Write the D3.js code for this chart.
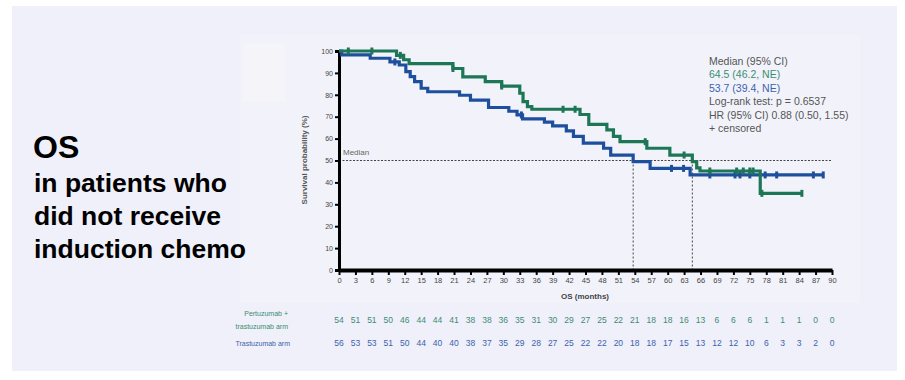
<!DOCTYPE html>
<html><head><meta charset="utf-8">
<script src="https://cdn.jsdelivr.net/npm/d3@7"></script>
<style>body{margin:0;background:#fff}svg{display:block}</style>
</head><body>
<script>
// ---- data ----
const pertTimes = [0,10.5,11.8,12.8,20.8,22.6,26.7,29.7,33.0,33.6,34.4,35.2,44.0,45.6,48.9,50.1,51.3,56.2,60.4,64.5,65.3,65.9,76.9];
const pertSurv  = [100,98,96,94.2,92,88.2,86,84,80.7,76.9,74.6,73.4,71,66.5,64,61,58.6,55.6,52.5,49.5,46.6,45.2,35];
const pertEnd = 84.5;
const pertCensor = [1.7,6.0,11.2,20.8,29.7,40.9,43.1,55.9,63.0,67.7,72.6,73.8,75.0,75.6,77.2,84.5];

const trasTimes = [0,0.5,5.7,9.3,11.0,12.2,13.0,13.8,15.0,16.2,22.0,24.0,27.3,31.0,32.5,33.5,37.5,39.0,41.5,42.8,44.6,48.3,49.6,53.7,56.8,64.1];
const trasSurv  = [100,98.2,96.7,95,93.6,90.6,88.3,86,83,81.4,79.8,77.6,74.2,72.5,70.8,69,67.5,65.8,63.5,61,57.9,55.6,52.5,49.5,46.4,43.4];
const trasEnd = 88.4;
const trasCensor = [10.2,33.3,60.7,62.9,67.7,72.3,73.2,75.0,77.8,79.9,86.6,88.4];

const xTicks = d3.range(0, 91, 3);
const yTicks = d3.range(0, 101, 10);
const riskPert = [54,51,51,50,46,44,44,41,38,38,36,35,31,30,29,27,25,22,21,18,18,16,13,6,6,6,1,1,1,0,0];
const riskTras = [56,53,53,51,50,44,40,40,38,37,35,29,28,27,25,22,22,20,18,18,17,15,13,12,12,10,6,3,3,2,0];
const medians = [53.7, 64.5];
const titleLines = ["in patients who","did not receive","induction chemo"];
const legendLines = ["Median (95% CI)","64.5 (46.2, NE)","53.7 (39.4, NE)","Log-rank test: p = 0.6537","HR (95% CI) 0.88 (0.50, 1.55)","+ censored"];

// ---- drawing ----
const W = 905, H = 380;
const green = "#1d7656", blue = "#1e4f9d";
const svg = d3.select("body").append("svg").attr("width", W).attr("height", H)
  .style("font-family", "'Liberation Sans', Arial, sans-serif");
svg.append("rect").attr("width", W).attr("height", H).attr("fill", "#fff");
svg.append("rect").attr("x", 12).attr("y", 6).attr("width", 885).attr("height", 365).attr("fill", "#eff0f9");
svg.append("rect").attr("x", 240).attr("y", 35).attr("width", 620).attr("height", 268).attr("fill", "#f2f3fa");
svg.append("rect").attr("x", 243).attr("y", 44).attr("width", 42).attr("height", 58).attr("fill", "#f5f5f9");

// title
svg.append("text").attr("x", 33).attr("y", 158).attr("font-size", 32).attr("font-weight", "bold").attr("fill", "#000").text("OS");
svg.selectAll("text.tl").data(titleLines).enter().append("text").attr("class", "tl")
  .attr("x", 34).attr("y", (d, i) => 192 + i * 33).attr("font-size", 26.5).attr("font-weight", "bold").attr("fill", "#000").text(d => d);

const x = d3.scaleLinear().domain([0, 90]).range([339, 832]);
const y = d3.scaleLinear().domain([0, 100]).range([270, 51]);

// median lines
svg.append("line").attr("x1", x(0)).attr("x2", x(90)).attr("y1", y(50)).attr("y2", y(50))
  .attr("stroke", "#444").attr("stroke-width", 1.2).attr("stroke-dasharray", "2,1.5");
svg.selectAll("line.vm").data(medians).enter().append("line").attr("class", "vm")
  .attr("x1", d => x(d)).attr("x2", d => x(d)).attr("y1", y(50)).attr("y2", y(0))
  .attr("stroke", "#444").attr("stroke-width", 1).attr("stroke-dasharray", "2,2");
svg.append("text").attr("x", 343).attr("y", 155).attr("font-size", 8).attr("fill", "#666").text("Median");

// axes
const yAxis = svg.append("g").attr("transform", `translate(${x(0)},0)`)
  .call(d3.axisLeft(y).tickValues(yTicks).tickSize(4).tickPadding(2));
yAxis.select(".domain").attr("stroke", "#000").attr("stroke-width", 3);
yAxis.selectAll(".tick line").attr("stroke", "#000").attr("stroke-width", 2);
yAxis.selectAll(".tick text").attr("font-size", 7).attr("fill", "#444").attr("font-family", "'Liberation Sans', Arial, sans-serif");

const xAxis = svg.append("g").attr("transform", `translate(0,${y(0)})`)
  .call(d3.axisBottom(x).tickValues(xTicks).tickSize(5).tickPadding(3).tickSizeOuter(0));
xAxis.select(".domain").attr("stroke", "#000").attr("stroke-width", 4);
xAxis.selectAll(".tick line").attr("stroke", "#000").attr("stroke-width", 2);
xAxis.selectAll(".tick text").attr("font-size", 7.5).attr("fill", "#444").attr("font-family", "'Liberation Sans', Arial, sans-serif");

svg.append("text").attr("transform", `translate(307,160) rotate(-90)`).attr("text-anchor", "middle")
  .attr("font-size", 8).attr("font-weight", "bold").attr("fill", "#555").text("Survival probability (%)");
svg.append("text").attr("x", 585).attr("y", 299).attr("text-anchor", "middle")
  .attr("font-size", 8).attr("font-weight", "bold").attr("fill", "#444").text("OS (months)");

// curves
function stepAt(times, surv, t) {
  let v = surv[0];
  for (let i = 0; i < times.length; i++) if (times[i] <= t) v = surv[i];
  return v;
}
const line = d3.line().x(d => x(d[0])).y(d => y(d[1])).curve(d3.curveStepAfter);
function drawArm(times, surv, end, censor, color) {
  const pts = times.map((t, i) => [t, surv[i]]);
  pts.push([end, surv[surv.length - 1]]);
  svg.append("path").datum(pts).attr("d", line).attr("fill", "none")
    .attr("stroke", color).attr("stroke-width", 3.2);
  svg.selectAll(null).data(censor).enter().append("line")
    .attr("x1", d => x(d)).attr("x2", d => x(d))
    .attr("y1", d => y(stepAt(times, surv, d)) - 3.5).attr("y2", d => y(stepAt(times, surv, d)) + 3.5)
    .attr("stroke", color).attr("stroke-width", 3);
}
drawArm(trasTimes, trasSurv, trasEnd, trasCensor, blue);
drawArm(pertTimes, pertSurv, pertEnd, pertCensor, green);

// legend
const legColors = ["#555", "#3c8d72", "#3d62ad", "#555", "#555", "#555"];
svg.selectAll("text.lg").data(legendLines).enter().append("text").attr("class", "lg")
  .attr("x", 709).attr("y", (d, i) => 65 + i * 13.4).attr("font-size", 10.5)
  .attr("fill", (d, i) => legColors[i]).text(d => d);

// risk table
svg.append("text").attr("x", 288).attr("y", 316).attr("text-anchor", "end").attr("font-size", 7).attr("fill", "#3c8d72").text("Pertuzumab +");
svg.append("text").attr("x", 288).attr("y", 329).attr("text-anchor", "end").attr("font-size", 7).attr("fill", "#3c8d72").text("trastuzumab arm");
svg.append("text").attr("x", 290).attr("y", 346).attr("text-anchor", "end").attr("font-size", 7).attr("fill", "#3d62ad").text("Trastuzumab arm");
svg.selectAll("text.rp").data(riskPert).enter().append("text").attr("class", "rp")
  .attr("x", (d, i) => x(xTicks[i])).attr("y", 323).attr("text-anchor", "middle")
  .attr("font-size", 8.5).attr("fill", "#3c8d72").text(d => d);
svg.selectAll("text.rt").data(riskTras).enter().append("text").attr("class", "rt")
  .attr("x", (d, i) => x(xTicks[i])).attr("y", 346).attr("text-anchor", "middle")
  .attr("font-size", 8.5).attr("fill", "#3d62ad").text(d => d);
</script>
</body></html>
